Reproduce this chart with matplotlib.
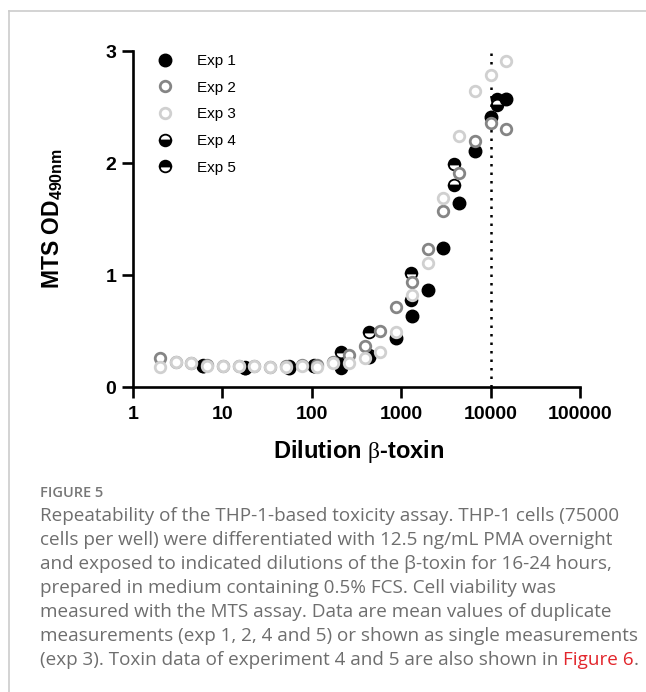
import numpy as np
import matplotlib
matplotlib.use("Agg")
import matplotlib.pyplot as plt
from matplotlib.lines import Line2D

plt.rcParams['font.family'] = ['Liberation Sans', 'DejaVu Sans']
plt.rcParams['mathtext.fontset'] = 'custom'
plt.rcParams['mathtext.bf'] = 'Liberation Sans:bold'
plt.rcParams['mathtext.rm'] = 'Liberation Serif'

# dilution series (1.5-fold) used for exp 2 and 3
dil_15 = [2, 3, 4.5, 6.75, 10.1, 15.2, 22.8, 34.2, 51.3, 77, 115, 173, 259,
          389, 584, 876, 1314, 1971, 2956, 4434, 6651, 9977, 14965]

exp1_x = [6, 18, 55, 107, 210, 440, 876, 1314, 1971, 2956, 4434, 6651, 9977, 14965]
exp1_y = [0.19, 0.17, 0.17, 0.19, 0.20, 0.27, 0.44, 0.63, 0.87, 1.24, 1.64, 2.11, 2.41, 2.57]

exp2_y = [0.26, 0.22, 0.21, 0.20, 0.19, 0.19, 0.19, 0.18, 0.19, 0.20, 0.20, 0.22, 0.29,
          0.37, 0.50, 0.71, 0.94, 1.23, 1.57, 1.91, 2.20, 2.36, 2.30]
exp3_y = [0.18, 0.22, 0.21, 0.19, 0.19, 0.19, 0.19, 0.18, 0.18, 0.19, 0.18, 0.21, 0.21,
          0.26, 0.31, 0.49, 0.82, 1.11, 1.69, 2.24, 2.64, 2.79, 2.91]

exp45_x = [6, 18, 55, 107, 210, 435, 1300, 3900, 11700]
exp4_y = [0.19, 0.17, 0.18, 0.19, 0.17, 0.29, 0.78, 1.80, 2.52]
exp5_y = [0.20, 0.18, 0.19, 0.20, 0.31, 0.49, 1.02, 1.99, 2.57]

toxin_cut = 10000

gray = '#858585'
light = '#d0d0d0'

fig = plt.figure(figsize=(6.46, 6.92), dpi=100)
ax = fig.add_axes([133/646, 1-387/692, 447/646, 336/692])

h5, = ax.plot(exp45_x, exp5_y, 'o', ms=8.4, mfc='black', mfcalt='white', mec='black',
              mew=1.3, fillstyle='top', label='Exp 5', zorder=3)
h4, = ax.plot(exp45_x, exp4_y, 'o', ms=8.4, mfc='black', mfcalt='white', mec='black',
              mew=1.3, fillstyle='bottom', label='Exp 4', zorder=3)
h1, = ax.plot(exp1_x, exp1_y, 'o', ms=9, mfc='black', mec='black', mew=1,
              label='Exp 1', zorder=4)
h2, = ax.plot(dil_15, exp2_y, 'o', ms=7.6, mfc='white', mec=gray, mew=2,
              label='Exp 2', zorder=5)
h3, = ax.plot(dil_15, exp3_y, 'o', ms=7.6, mfc='white', mec=light, mew=2,
              label='Exp 3', zorder=6)

ax.axvline(toxin_cut, ymin=0, ymax=1, color='black', lw=1.8,
           linestyle=(0, (1, 2.4)), zorder=2)

ax.set_xscale('log')
ax.set_xlim(1, 100000)
ax.set_ylim(0, 3)
ax.set_xticks([1, 10, 100, 1000, 10000, 100000])
ax.set_xticklabels(['1', '10', '100', '1000', '10000', '100000'])
ax.xaxis.set_minor_locator(matplotlib.ticker.NullLocator())
ax.set_yticks([0, 1, 2, 3])
ax.set_yticklabels(['0', '1', '2', '3'])

for s in ['top', 'right']:
    ax.spines[s].set_visible(False)
for s in ['left', 'bottom']:
    ax.spines[s].set_linewidth(1.9)
ax.tick_params(direction='out', length=8, width=1.9, labelsize=14, pad=4)
for lab in ax.get_xticklabels() + ax.get_yticklabels():
    lab.set_fontweight('bold')
ax.tick_params(axis='x', pad=6)

ax.set_xlabel(r'Dilution $\mathrm{\beta}$-toxin', fontsize=17, fontweight='bold')
ax.xaxis.set_label_coords(0.506, -0.153)
ax.set_ylabel(r'MTS OD$_{\mathbf{490nm}}$', fontsize=16.5, fontweight='bold')
ax.yaxis.set_label_coords(-0.152, 0.5)

leg = ax.legend(handles=[h1, h2, h3, h4, h5], loc='upper left',
                bbox_to_anchor=(157/646, 1-54/692), bbox_transform=fig.transFigure,
                frameon=False, fontsize=11, numpoints=1, handlelength=1.0,
                handletextpad=1.6, labelspacing=0.83, borderpad=0, borderaxespad=0)

# frame lines of the figure panel
fig.add_artist(Line2D([9/646, 9/646], [0, 1-11/692], color='#cccccc', lw=1.2))
fig.add_artist(Line2D([9/646, 1], [1-11/692, 1-11/692], color='#cccccc', lw=1.2))

# caption
cap_color = '#6e6e6e'
cap_font = ['Open Sans', 'DejaVu Sans']
cap_lines = [
    "Repeatability of the THP-1-based toxicity assay. THP-1 cells (75000",
    "cells per well) were differentiated with 12.5 ng/mL PMA overnight",
    "and exposed to indicated dilutions of the \u03b2-toxin for 16-24 hours,",
    "prepared in medium containing 0.5% FCS. Cell viability was",
    "measured with the MTS assay. Data are mean values of duplicate",
    "measurements (exp 1, 2, 4 and 5) or shown as single measurements",
]
last_gray = "(exp 3). Toxin data of experiment 4 and 5 are also shown in "

fig.text(40/646, 1-493/692, 'FIGURE 5', fontsize=10.5, color='#777777',
         fontweight='semibold', family=cap_font, va='center')

renderer = fig.canvas.get_renderer()
probe = fig.text(40/646, 0.5, cap_lines[0], fontsize=11.5, family=cap_font)
w = probe.get_window_extent(renderer).width
cap_fs = 11.5 * 577 / w
probe.remove()

y0 = 516
for i, line in enumerate(cap_lines):
    fig.text(40/646, 1-(y0 + 24*i)/692, line, fontsize=cap_fs, color=cap_color,
             family=cap_font, va='center')
ylast = 1-(y0 + 24*6)/692
t1 = fig.text(40/646, ylast, last_gray, fontsize=cap_fs, color=cap_color,
              family=cap_font, va='center')
x1 = t1.get_window_extent(renderer).x1 / fig.bbox.width
t2 = fig.text(x1, ylast, "Figure 6", fontsize=cap_fs, color='#e2262c',
              family=cap_font, va='center')
x2 = t2.get_window_extent(renderer).x1 / fig.bbox.width
fig.text(x2, ylast, ".", fontsize=cap_fs, color=cap_color,
         family=cap_font, va='center')

fig.savefig('out.png', dpi=100)
